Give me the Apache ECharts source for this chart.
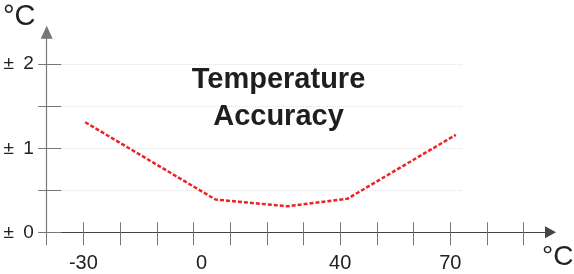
<!DOCTYPE html>
<html>
<head>
<meta charset="utf-8">
<style>
    html, body { margin: 0; padding: 0; background: #fff; }
    #chart { width: 574px; height: 274px; }
</style>
<script src="https://cdn.jsdelivr.net/npm/echarts@6/dist/echarts.min.js"></script>
</head>
<body>
<div id="chart"></div>
<script>
    // ambient temperature (°C) and accuracy (± °C)
    var tempPoints = [-29.5, 6, 25.5, 42, 71.5];
    var accuracy = [1.31, 0.39, 0.31, 0.40, 1.16];

    // axis ticks / labels
    var xTicks = [-40, -30, -20, -10, 0, 10, 20, 30, 40, 50, 60, 70, 80, 90];
    var xLabels = [-30, 0, 40, 70];
    var yTicks = [0, 0.5, 1, 1.5, 2];
    var yLabels = [0, 1, 2];

    var font = 'Liberation Sans, Arial, sans-serif';
    var chart = echarts.init(document.getElementById('chart'));

    var points = tempPoints.map(function (t, i) { return [t, accuracy[i]]; });

    chart.setOption({
        animation: false,
        grid: [
            {left: 46.7, right: 23.5, top: 32.3, bottom: 41.7},
            // only used for the light dotted grid lines
            {left: 61, right: 111, top: 64, bottom: 84}
        ],
        xAxis: [
            {
                type: 'value', gridIndex: 0, min: -40, max: 97.3,
                axisLine: {
                    show: true, onZero: false,
                    symbol: ['none', 'triangle'], symbolSize: [12, 11],
                    lineStyle: {color: '#444', width: 1.2}
                },
                axisTick: {show: true, inside: false, length: 13, customValues: xTicks,
                    lineStyle: {color: '#777'}},
                axisLabel: {
                    customValues: xLabels, margin: 21, color: '#222',
                    fontSize: 20, fontFamily: font,
                    formatter: function (v) { return v === 0 ? '{z|0}' : '' + v; },
                    rich: {z: {fontSize: 20, fontFamily: font, color: '#222', padding: [0, 0, 0, 16]}}
                },
                splitLine: {show: false}
            },
            {
                type: 'value', gridIndex: 0, position: 'bottom', min: -40, max: 97.3,
                axisLine: {show: false, onZero: false},
                axisTick: {show: true, inside: true, length: 10, customValues: xTicks,
                    lineStyle: {color: '#777'}},
                axisLabel: {show: false},
                splitLine: {show: false}
            },
            {
                type: 'value', gridIndex: 1, min: 0, max: 1, show: false,
                axisLine: {onZero: false}
            }
        ],
        yAxis: [
            {
                type: 'value', gridIndex: 0, min: 0, max: 2.38,
                axisLine: {
                    show: true, onZero: false,
                    symbol: ['none', 'triangle'], symbolSize: [12, 13],
                    lineStyle: {color: '#777', width: 1.2}
                },
                axisTick: {show: true, inside: false, length: 8.5, customValues: yTicks,
                    lineStyle: {color: '#777'}},
                axisLabel: {
                    customValues: yLabels, margin: 13, color: '#222',
                    fontSize: 19, fontFamily: font,
                    formatter: function (v) { return '\u00b1 \u2009' + v; }
                },
                splitLine: {show: false}
            },
            {
                type: 'value', gridIndex: 0, position: 'left', min: 0, max: 2.38,
                axisLine: {show: false, onZero: false},
                axisTick: {show: true, inside: true, length: 14.5, customValues: yTicks,
                    lineStyle: {color: '#777'}},
                axisLabel: {show: false},
                splitLine: {show: false}
            },
            {
                type: 'value', gridIndex: 1, min: 0.5, max: 2, interval: 0.5,
                axisLine: {show: false, onZero: false},
                axisTick: {show: false},
                axisLabel: {show: false},
                splitLine: {show: true, lineStyle: {color: '#e2e2e2', type: 'dotted', width: 1}}
            }
        ],
        series: [{
            type: 'line',
            xAxisIndex: 0,
            yAxisIndex: 0,
            data: points,
            symbol: 'none',
            lineStyle: {color: '#ee2222', width: 2.5, type: [4, 2]}
        }],
        graphic: [
            {
                type: 'text', x: 3, y: 2, z: 100,
                style: {text: '\u00b0C', font: '29px ' + font, fill: '#222'}
            },
            {
                type: 'text', x: 542, y: 243, z: 100,
                style: {text: '\u00b0C', font: '28px ' + font, fill: '#222'}
            },
            {
                type: 'text', x: 278.5, y: 62, z: 100,
                style: {
                    text: 'Temperature\nAccuracy',
                    font: 'bold 29px ' + font,
                    lineHeight: 36.5,
                    align: 'center',
                    verticalAlign: 'top',
                    fill: '#1e1e1e'
                }
            }
        ]
    });
</script>
</body>
</html>
